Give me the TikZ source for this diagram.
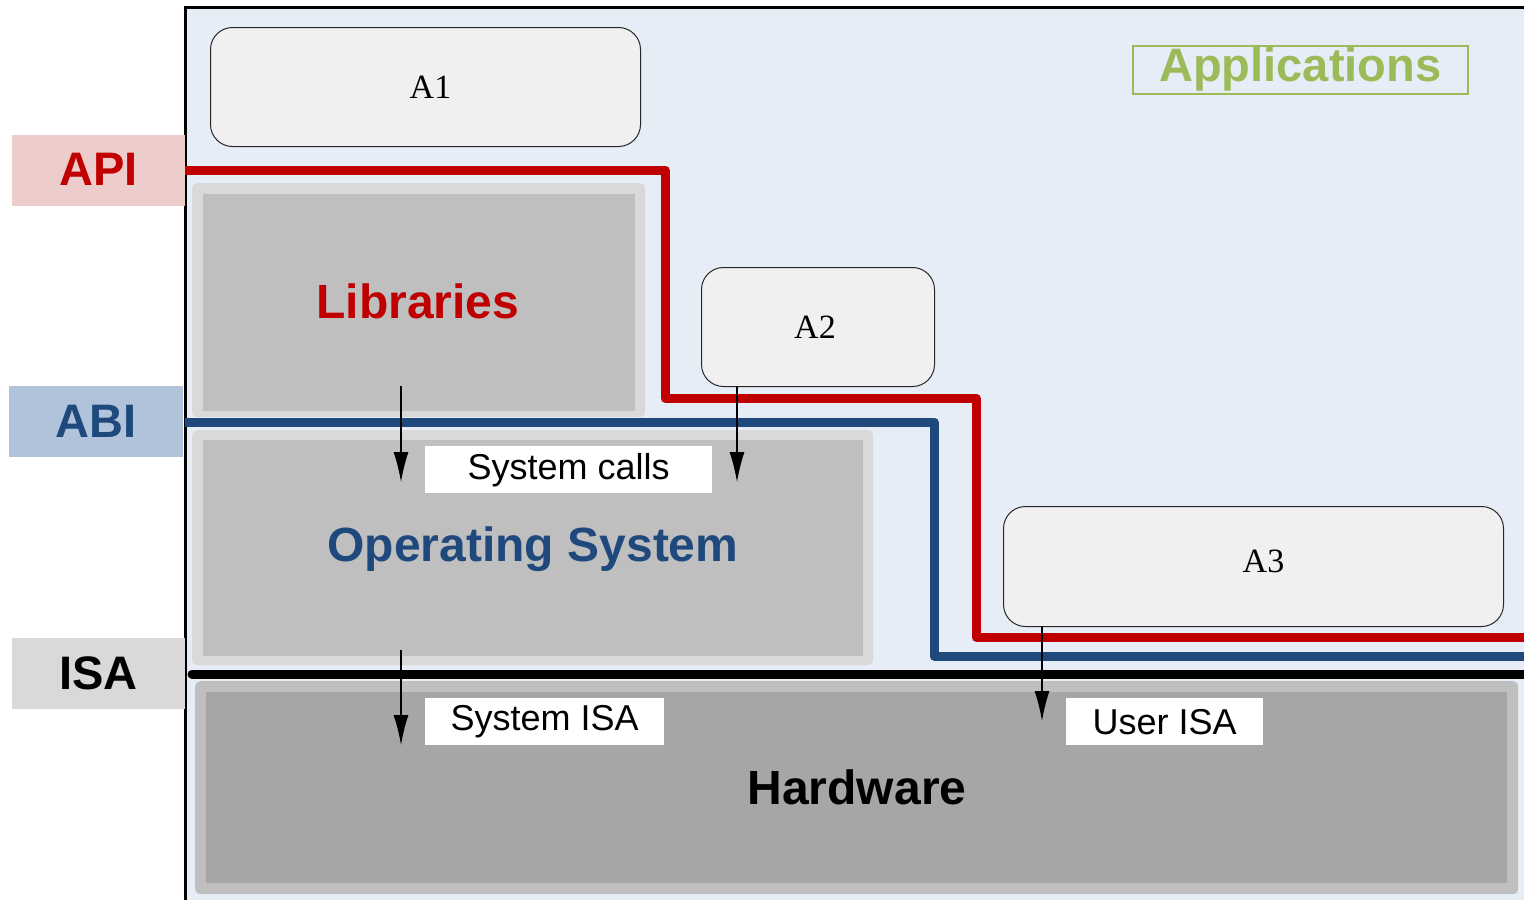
\documentclass[tikz,border=0pt]{standalone}
\usepackage{fontspec}
\setmainfont{Liberation Sans}
\newfontfamily\serifA{Liberation Serif}
\usetikzlibrary{arrows.meta}
\definecolor{bgblue}{HTML}{E7EDF7}
\definecolor{apired}{HTML}{C00000}
\definecolor{apibg}{HTML}{EDCCCC}
\definecolor{abiblue}{HTML}{1F497D}
\definecolor{abibg}{HTML}{B0C3DB}
\definecolor{isabg}{HTML}{D9D9D9}
\definecolor{appgreen}{HTML}{9BBB59}
\definecolor{abox}{HTML}{F0F0F0}
\definecolor{lightgray}{HTML}{D9D9D9}
\definecolor{midgray}{HTML}{BFBFBF}
\definecolor{darkgray}{HTML}{A6A6A6}
\tikzset{
  sidelabel/.style={anchor=north west, inner sep=0pt, font=\fontsize{47}{50}\selectfont\bfseries},
  appbox/.style={anchor=north west, draw=black!85, line width=1pt, fill=abox, rounded corners=22pt, inner sep=0pt},
  apptext/.style={font=\serifA\fontsize{34}{36}\selectfont, inner sep=0pt},
  layerout/.style={anchor=north west, rounded corners=5pt, inner sep=0pt},
  layerin/.style={anchor=north west, inner sep=0pt},
  whitebox/.style={anchor=north west, fill=white, inner sep=0pt, font=\fontsize{36}{40}\selectfont},
  layertext/.style={font=\fontsize{48}{50}\selectfont\bfseries, inner sep=0pt},
  iface/.style={line width=9pt, line join=round},
  callarrow/.style={line width=1.3pt, -{Latex[length=30pt,width=15pt]}},
}
\begin{document}
\begin{tikzpicture}[x=1pt,y=-1pt]
\useasboundingbox (0,0) rectangle (1524,900);
% frame
\fill[bgblue] (185,7) rectangle (1524,900);
\draw[line width=3pt] (185,900) -- (185,7) -- (1524,7);
% layers
\node[layerout, fill=lightgray, minimum width=453pt, minimum height=234pt] (libout) at (192,183) {};
\node[layerin, fill=midgray, minimum width=432pt, minimum height=217pt] (libin) at (203,194) {};
\node[layerout, fill=lightgray, minimum width=681pt, minimum height=235pt] (osout) at (192,430) {};
\node[layerin, fill=midgray, minimum width=660pt, minimum height=216pt] (osin) at (203,440) {};
\node[layerout, fill=midgray, minimum width=1323pt, minimum height=213pt] (hwout) at (195,681) {};
\node[layerin, fill=darkgray, minimum width=1301pt, minimum height=191pt] (hwin) at (206,692) {};
% application boxes
\node[appbox, minimum width=430pt, minimum height=119pt, label={[apptext, shift={(5,0)}]center:A1}] (a1) at (210,27) {};
\node[appbox, minimum width=233pt, minimum height=119pt, label={[apptext, shift={(-3,0)}]center:A2}] (a2) at (701,267) {};
\node[appbox, minimum width=500pt, minimum height=120pt, label={[apptext, shift={(10,-5)}]center:A3}] (a3) at (1003,506) {};
% applications label
\node[anchor=north west, draw=appgreen, line width=1.5pt, minimum width=335pt, minimum height=48pt, inner sep=0pt, text=appgreen, font=\fontsize{47}{50}\selectfont\bfseries] (apps) at (1132,45) {Applications};
% interface lines
\coordinate (apiL) at (185,170);
\coordinate (apiR) at (1524,637);
\coordinate (abiL) at (185,422);
\coordinate (abiR) at (1524,656);
\coordinate (isaL) at (192,674);
\coordinate (isaR) at (1524,674);
\draw[iface, apired] (apiL) -- (665,170) -- (665,398) -- (976,398) -- (976,637) -- (apiR);
\draw[iface, abiblue] (abiL) -- (934,422) -- (934,656) -- (abiR);
\draw[line width=9pt, line cap=round] (isaL) -- (1520,674);
\draw[line width=9pt] (1515,674) -- (isaR);
% side labels
\node[sidelabel, fill=apibg, text=apired, minimum width=173pt, minimum height=71pt] (api) at (12,135) {\raisebox{2pt}{API}};
\node[sidelabel, fill=abibg, text=abiblue, minimum width=174pt, minimum height=71pt] (abi) at (9,386) {ABI};
\node[sidelabel, fill=isabg, text=black, minimum width=173pt, minimum height=71pt] (isa) at (12,638) {\raisebox{2pt}{ISA}};
% layer texts
\node[layertext, text=apired] (libtxt) at (418,301) {Libraries};
\node[layertext, text=abiblue] (ostxt) at (533,549) {Operating System};
\node[layertext, text=black] (hwtxt) at (857,787) {Hardware};
% white labels
\node[whitebox, minimum width=287pt, minimum height=47pt] (syscalls) at (425,446) {\raisebox{-2pt}{System calls}};
\node[whitebox, minimum width=239pt, minimum height=47pt] (sysisa) at (425,698) {\raisebox{-3pt}{System ISA}};
\node[whitebox, minimum width=197pt, minimum height=47pt] (userisa) at (1066,698) {User ISA};
% arrows
\coordinate (s1) at (401,386);
\coordinate (e1) at (401,482);
\coordinate (s2) at (737,386);
\coordinate (e2) at (737,482);
\coordinate (s3) at (401,650);
\coordinate (e3) at (401,745);
\coordinate (s4) at (1042,626);
\coordinate (e4) at (1042,721);
\draw[callarrow] (s1) -- (e1);
\draw[callarrow] (s2) -- (e2);
\draw[callarrow] (s3) -- (e3);
\draw[callarrow] (s4) -- (e4);
\end{tikzpicture}
\end{document}
